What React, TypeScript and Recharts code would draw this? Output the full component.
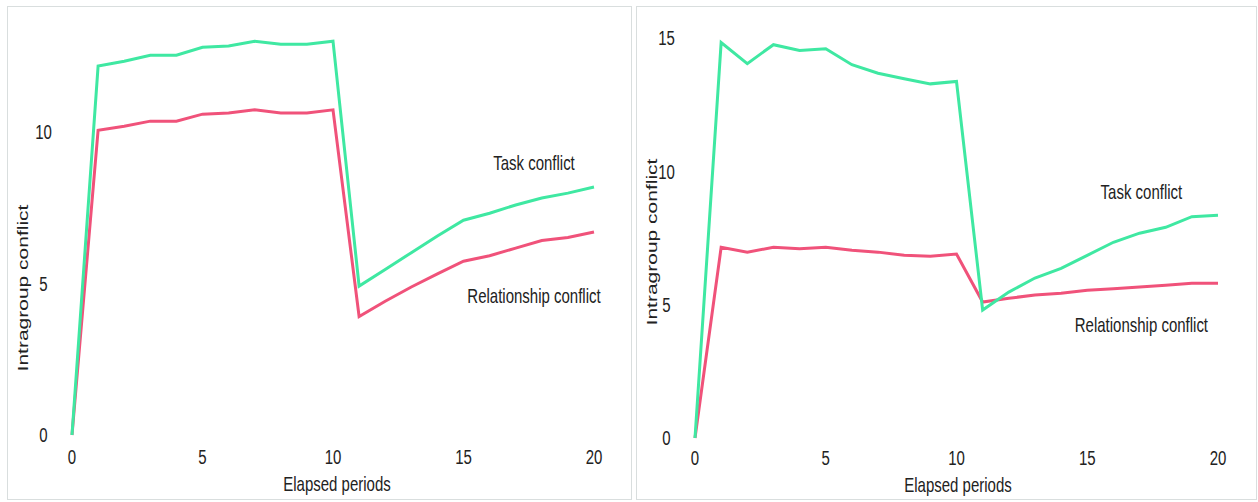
import React from 'react'
import { LineChart, Line, XAxis, YAxis, ReferenceDot } from 'recharts'

const periods = [0, 1, 2, 3, 4, 5, 6, 7, 8, 9, 10, 11, 12, 13, 14, 15, 16, 17, 18, 19, 20]

const leftTask = [0, 12.14, 12.3, 12.5, 12.5, 12.76, 12.8, 12.96, 12.86, 12.86, 12.96, 4.9, 5.45, 6.0, 6.55, 7.07, 7.3, 7.57, 7.8, 7.96, 8.16]
const leftRel = [0, 10.03, 10.16, 10.33, 10.33, 10.56, 10.6, 10.7, 10.6, 10.6, 10.7, 3.9, 4.4, 4.87, 5.3, 5.72, 5.9, 6.15, 6.4, 6.5, 6.68]

const rightTask = [0, 14.83, 14.04, 14.75, 14.53, 14.6, 14.0, 13.68, 13.47, 13.28, 13.37, 4.8, 5.47, 6.0, 6.36, 6.85, 7.34, 7.68, 7.9, 8.3, 8.35]
const rightRel = [0, 7.15, 6.97, 7.15, 7.1, 7.15, 7.04, 6.97, 6.85, 6.82, 6.9, 5.1, 5.24, 5.36, 5.43, 5.54, 5.6, 5.66, 5.73, 5.8, 5.8]

const xTicks = [0, 5, 10, 15, 20]
const leftYTicks = [0, 5, 10]
const rightYTicks = [0, 5, 10, 15]

const TASK_LABEL = 'Task conflict'
const REL_LABEL = 'Relationship conflict'
const X_TITLE = 'Elapsed periods'
const Y_TITLE = 'Intragroup conflict'

const GREEN = '#3fe8a2'
const PINK = '#f0527a'
const FONT = '"Liberation Sans", Arial, sans-serif'

function StretchText({ x, y, rotate, children }: { x: number; y: number; rotate?: boolean; children: React.ReactNode }) {
  const t = rotate
    ? `translate(${x},${y}) rotate(-90) scale(1.4,1)`
    : `translate(${x},${y}) scale(1,1.4)`
  return (
    <text
      transform={t}
      textAnchor="middle"
      dominantBaseline="central"
      fontSize={15}
      fontFamily={FONT}
      fill="#222"
    >
      {children}
    </text>
  )
}

type PanelProps = {
  left: number
  width: number
  task: number[]
  rel: number[]
  yMax: number
  yTicks: number[]
  plotLeft: number
  plotRight: number
  plotTop: number
  plotBottom: number
  xTickDy: number
  xTitle: { x: number; y: number }
  yTitle: { x: number; y: number }
  taskAt: { x: number; y: number }
  relAt: { x: number; y: number }
}

function Panel(p: PanelProps) {
  const innerW = p.width - 2
  const innerH = 492
  const data = periods.map((period, i) => ({ period, task: p.task[i], rel: p.rel[i] }))

  return (
    <div
      style={{
        position: 'absolute',
        left: p.left,
        top: 6,
        width: innerW,
        height: innerH,
        border: '1px solid #d9dede',
        background: '#fff',
      }}
    >
      <LineChart
        width={innerW}
        height={innerH}
        data={data}
        margin={{ top: p.plotTop, right: innerW - p.plotRight, left: 0, bottom: 0 }}
      >
        <XAxis
          dataKey="period"
          type="number"
          domain={[0, 20]}
          ticks={xTicks}
          axisLine={false}
          tickLine={false}
          height={innerH - p.plotBottom}
          tick={(t: any) => (
            <StretchText x={t.x} y={p.plotBottom + p.xTickDy}>{t.payload.value}</StretchText>
          )}
          label={{ content: () => <StretchText x={p.xTitle.x} y={p.xTitle.y}>{X_TITLE}</StretchText> }}
        />
        <YAxis
          type="number"
          domain={[0, p.yMax]}
          ticks={p.yTicks}
          axisLine={false}
          tickLine={false}
          width={p.plotLeft}
          tick={(t: any) => (
            <StretchText x={p.plotLeft - 28.5} y={t.y}>{t.payload.value}</StretchText>
          )}
          label={{ content: () => <StretchText x={p.yTitle.x} y={p.yTitle.y} rotate>{Y_TITLE}</StretchText> }}
        />
        <Line type="linear" dataKey="rel" stroke={PINK} strokeWidth={3} dot={false} isAnimationActive={false} />
        <Line type="linear" dataKey="task" stroke={GREEN} strokeWidth={3} dot={false} isAnimationActive={false} />
        <ReferenceDot
          x={p.taskAt.x}
          y={p.taskAt.y}
          r={0}
          shape={(s: any) => <StretchText x={s.cx} y={s.cy}>{TASK_LABEL}</StretchText>}
        />
        <ReferenceDot
          x={p.relAt.x}
          y={p.relAt.y}
          r={0}
          shape={(s: any) => <StretchText x={s.cx} y={s.cy}>{REL_LABEL}</StretchText>}
        />
      </LineChart>
    </div>
  )
}

export default function App() {
  return (
    <div style={{ position: 'absolute', left: 0, top: 0, width: 1258, height: 502, background: '#fff' }}>
      <Panel
        left={7}
        width={625}
        task={leftTask}
        rel={leftRel}
        yMax={13}
        yTicks={leftYTicks}
        plotLeft={64}
        plotRight={586}
        plotTop={33}
        plotBottom={428}
        xTickDy={22}
        xTitle={{ x: 329, y: 477 }}
        yTitle={{ x: 14.5, y: 281 }}
        taskAt={{ x: 17.7, y: 8.98 }}
        relAt={{ x: 17.7, y: 4.6 }}
      />
      <Panel
        left={636}
        width={621}
        task={rightTask}
        rel={rightRel}
        yMax={15}
        yTicks={rightYTicks}
        plotLeft={58}
        plotRight={581}
        plotTop={31}
        plotBottom={431}
        xTickDy={19.5}
        xTitle={{ x: 321, y: 477.5 }}
        yTitle={{ x: 15, y: 235 }}
        taskAt={{ x: 17.07, y: 9.25 }}
        relAt={{ x: 17.07, y: 4.27 }}
      />
    </div>
  )
}
